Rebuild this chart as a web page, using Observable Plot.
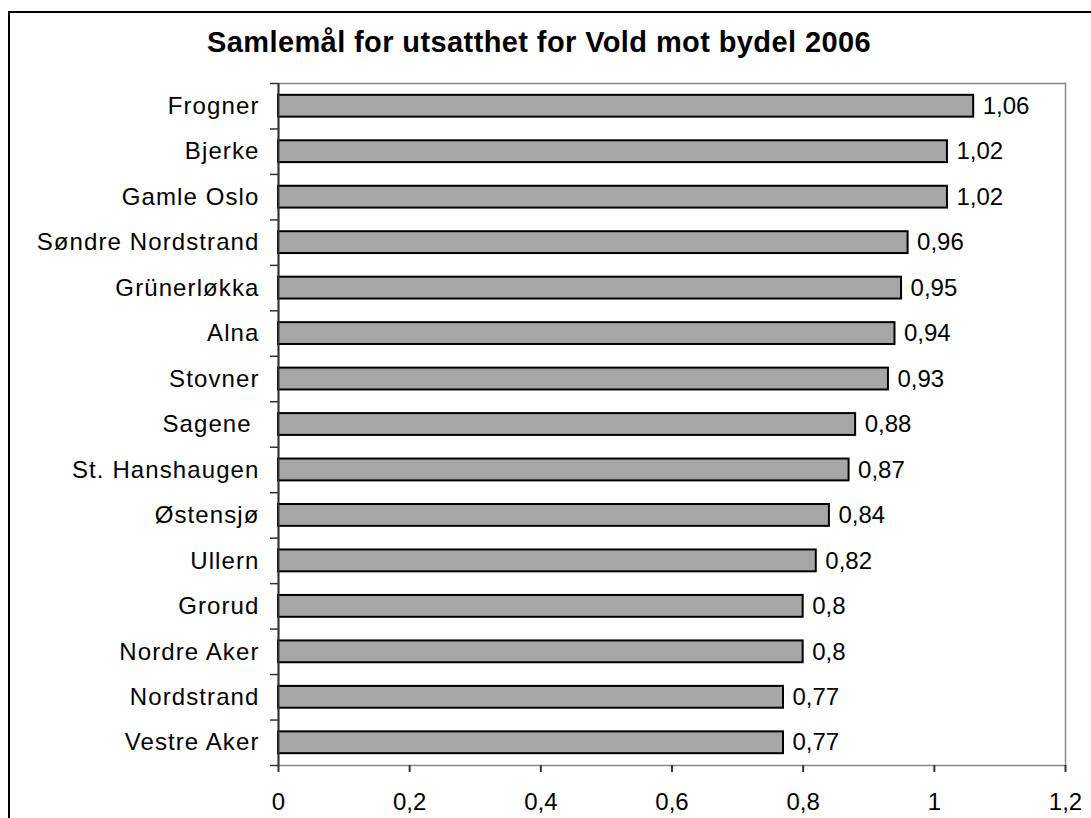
<!DOCTYPE html>
<html>
<head>
<meta charset="utf-8">
<script src="https://cdn.jsdelivr.net/npm/d3@7"></script>
<script src="https://cdn.jsdelivr.net/npm/@observablehq/plot@0.6"></script>
<style>
  html, body { margin: 0; padding: 0; background: #fff; overflow: hidden; }
  #frame { position: absolute; left: 8px; top: 11px; width: 1200px; height: 900px; border: 2px solid #000; box-sizing: border-box; }
  #wrap { position: relative; width: 1091px; height: 818px; }
  #title { position: absolute; left: 0; top: 28px; width: 1078px; text-align: center; font: bold 29px "Liberation Sans", Arial, sans-serif; letter-spacing: 0.4px; line-height: 1; color: #000; }
  #chart { position: absolute; left: 0; top: 60px; }
  g[aria-label="y-axis tick label"] text { letter-spacing: 1.1px; }
</style>
</head>
<body>
<div id="wrap">
  <div id="frame"></div>
  <div id="title">Samlemål for utsatthet for Vold mot bydel 2006</div>
  <div id="chart"></div>
</div>
<script>
const categories = ["Frogner", "Bjerke", "Gamle Oslo", "Søndre Nordstrand", "Grünerløkka", "Alna", "Stovner", "Sagene\u00a0", "St. Hanshaugen", "Østensjø", "Ullern", "Grorud", "Nordre Aker", "Nordstrand", "Vestre Aker"];
const values = [1.06, 1.02, 1.02, 0.96, 0.95, 0.94, 0.93, 0.88, 0.87, 0.84, 0.82, 0.8, 0.8, 0.77, 0.77];
const xTicks = [0, 0.2, 0.4, 0.6, 0.8, 1, 1.2];

const W = 1091, H = 758, mt = 23, mb = 53, ml = 278, mr = 26;
const step = (H - mt - mb) / categories.length;
const data = categories.map((c, i) => ({c, v: values[i]}));
const fmt = d => String(d).replace(".", ",");

const chart = Plot.plot({
  width: W, height: H,
  marginTop: mt, marginBottom: mb, marginLeft: ml, marginRight: mr,
  style: {fontFamily: "'Liberation Sans', Arial, sans-serif", fontSize: "24px", background: "transparent", overflow: "visible", color: "#000"},
  x: {domain: [0, 1.2]},
  y: {domain: categories, paddingInner: 0.52, paddingOuter: 0.26, round: false},
  marks: [
    Plot.frame({stroke: "#888", strokeWidth: 1.5}),
    Plot.barX(data, {x: "v", y: "c", fill: "#a6a6a6", stroke: "#000", strokeWidth: 2}),
    Plot.text(data, {x: "v", y: "c", text: d => fmt(d.v), textAnchor: "start", dx: 9, fill: "#000", fontSize: 24}),
    Plot.ruleX([0], {stroke: "#333", strokeWidth: 2}),
    Plot.axisX(xTicks, {tickSize: 7, tickPadding: 20, tickFormat: fmt, line: true, stroke: "#333", strokeWidth: 2, label: null, fontSize: 24, fill: "#000"}),
    Plot.axisY({tickSize: 0, tickPadding: 19, label: null, fontSize: 24, fill: "#000"}),
    Plot.axisY({tickSize: 8, tickFormat: () => "", dy: -step / 2, label: null, stroke: "#333", strokeWidth: 1.5}),
    Plot.axisY([categories[categories.length - 1]], {tickSize: 8, tickFormat: () => "", dy: step / 2, label: null, stroke: "#333", strokeWidth: 1.5})
  ]
});
document.getElementById("chart").appendChild(chart);
</script>
</body>
</html>
